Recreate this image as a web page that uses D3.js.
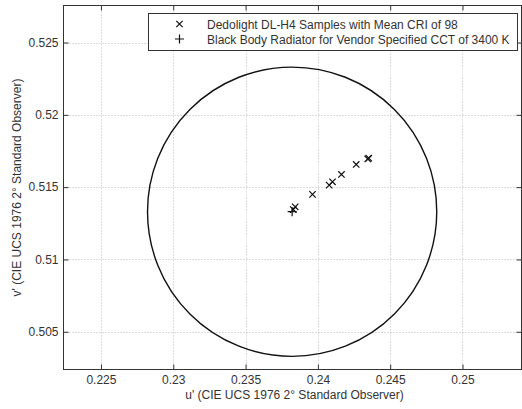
<!DOCTYPE html>
<html>
<head>
<meta charset="utf-8">
<script src="https://cdn.jsdelivr.net/npm/d3@7"></script>
<style>
  body { margin: 0; background: #fff; }
  svg text { font-family: "Liberation Sans", Arial, sans-serif; fill: #333; }
</style>
</head>
<body>
<svg id="chart" width="522" height="409"></svg>
<script>
// Dedolight DL-H4 samples (u', v')
const sampleU = [0.23843, 0.23830, 0.23963, 0.24078, 0.24101, 0.24163, 0.24265, 0.24345, 0.24352]
const sampleV = [0.51364, 0.51345, 0.51450, 0.51514, 0.51537, 0.51588, 0.51657, 0.51695, 0.51700]
// black body radiator at 3400 K
const bbU = [0.23822]
const bbV = [0.51330]
const circleRadius = 0.01
const xTicks = [0.225, 0.23, 0.235, 0.24, 0.245, 0.25]
const yTicks = [0.505, 0.51, 0.515, 0.52, 0.525]
const legendLabels = ["Dedolight DL-H4 Samples with Mean CRI of 98",
                      "Black Body Radiator for Vendor Specified CCT of 3400 K"]

const pLeft = 63.5, pRight = 521.5, pTop = 5.5, pBottom = 369.5
const svg = d3.select("#chart")

const x = d3.scaleLinear().domain([0.22241, 0.25408]).range([pLeft, pRight])
const y = d3.scaleLinear().domain([0.50239, 0.52756]).range([pBottom, pTop])

// grid
svg.append("g").selectAll("line").data(xTicks).join("line")
    .attr("x1", d => Math.round(x(d)) + 0.5).attr("x2", d => Math.round(x(d)) + 0.5)
    .attr("y1", pTop).attr("y2", pBottom)
    .attr("stroke", "#bbb").attr("stroke-dasharray", "1,2")
svg.append("g").selectAll("line").data(yTicks).join("line")
    .attr("y1", d => Math.round(y(d)) + 0.5).attr("y2", d => Math.round(y(d)) + 0.5)
    .attr("x1", pLeft).attr("x2", pRight)
    .attr("stroke", "#bbb").attr("stroke-dasharray", "1,2")

// axes (ticks inward on all four sides, matlab style)
const tl = 5
svg.append("g").attr("transform", `translate(0,${pBottom})`)
    .call(d3.axisBottom(x).tickValues(xTicks).tickSizeInner(-tl).tickSizeOuter(0).tickPadding(6).tickFormat(d3.format("")))
svg.append("g").attr("transform", `translate(0,${pTop})`)
    .call(d3.axisTop(x).tickValues(xTicks).tickSizeInner(-tl).tickSizeOuter(0).tickFormat(""))
svg.append("g").attr("transform", `translate(${pLeft},0)`)
    .call(d3.axisLeft(y).tickValues(yTicks).tickSizeInner(-tl).tickSizeOuter(0).tickPadding(5).tickFormat(d3.format("")))
svg.append("g").attr("transform", `translate(${pRight},0)`)
    .call(d3.axisRight(y).tickValues(yTicks).tickSizeInner(-tl).tickSizeOuter(0).tickFormat(""))
svg.selectAll(".domain").remove()
svg.selectAll(".tick line").attr("stroke", "#333")
svg.selectAll(".tick text").attr("font-size", 12).attr("fill", "#333")
    .attr("font-family", "Liberation Sans, Arial, sans-serif")

svg.append("rect").attr("x", pLeft).attr("y", pTop)
    .attr("width", pRight - pLeft).attr("height", pBottom - pTop)
    .attr("fill", "none").attr("stroke", "#333")

// tolerance circle around the black body point
svg.append("ellipse")
    .attr("cx", x(bbU[0])).attr("cy", y(bbV[0]))
    .attr("rx", x(bbU[0] + circleRadius) - x(bbU[0]))
    .attr("ry", y(bbV[0]) - y(bbV[0] + circleRadius))
    .attr("fill", "none").attr("stroke", "#111").attr("stroke-width", 1.4)

const cross = (g, cx, cy, s) => g.append("path")
    .attr("d", `M${cx - s},${cy - s}L${cx + s},${cy + s}M${cx - s},${cy + s}L${cx + s},${cy - s}`)
    .attr("stroke", "#111").attr("stroke-width", 1.2).attr("fill", "none")
const plus = (g, cx, cy, s) => g.append("path")
    .attr("d", `M${cx - s},${cy}L${cx + s},${cy}M${cx},${cy - s}L${cx},${cy + s}`)
    .attr("stroke", "#111").attr("stroke-width", 1.2).attr("fill", "none")

const marks = svg.append("g")
sampleU.forEach((u, i) => cross(marks, x(u), y(sampleV[i]), 3.2))
bbU.forEach((u, i) => plus(marks, x(u), y(bbV[i]), 4.5))

// legend
const lg = svg.append("g")
lg.append("rect").attr("x", 148.5).attr("y", 13.5).attr("width", 369).attr("height", 37)
    .attr("fill", "#fff").attr("stroke", "#333")
cross(lg, 179.5, 24, 3.2)
plus(lg, 179.5, 39, 4.5)
legendLabels.forEach((t, i) => lg.append("text")
    .attr("x", 207).attr("y", 28.5 + i * 15).attr("font-size", 12).text(t))

// axis labels
svg.append("text").attr("x", (pLeft + pRight) / 2 + 2).attr("y", 399)
    .attr("text-anchor", "middle").attr("font-size", 12)
    .text("u' (CIE UCS 1976 2° Standard Observer)")
svg.append("text").attr("transform", `translate(21,${(pTop + pBottom) / 2}) rotate(-90)`)
    .attr("text-anchor", "middle").attr("font-size", 12)
    .text("v' (CIE UCS 1976 2° Standard Observer)")
</script>
</body>
</html>
